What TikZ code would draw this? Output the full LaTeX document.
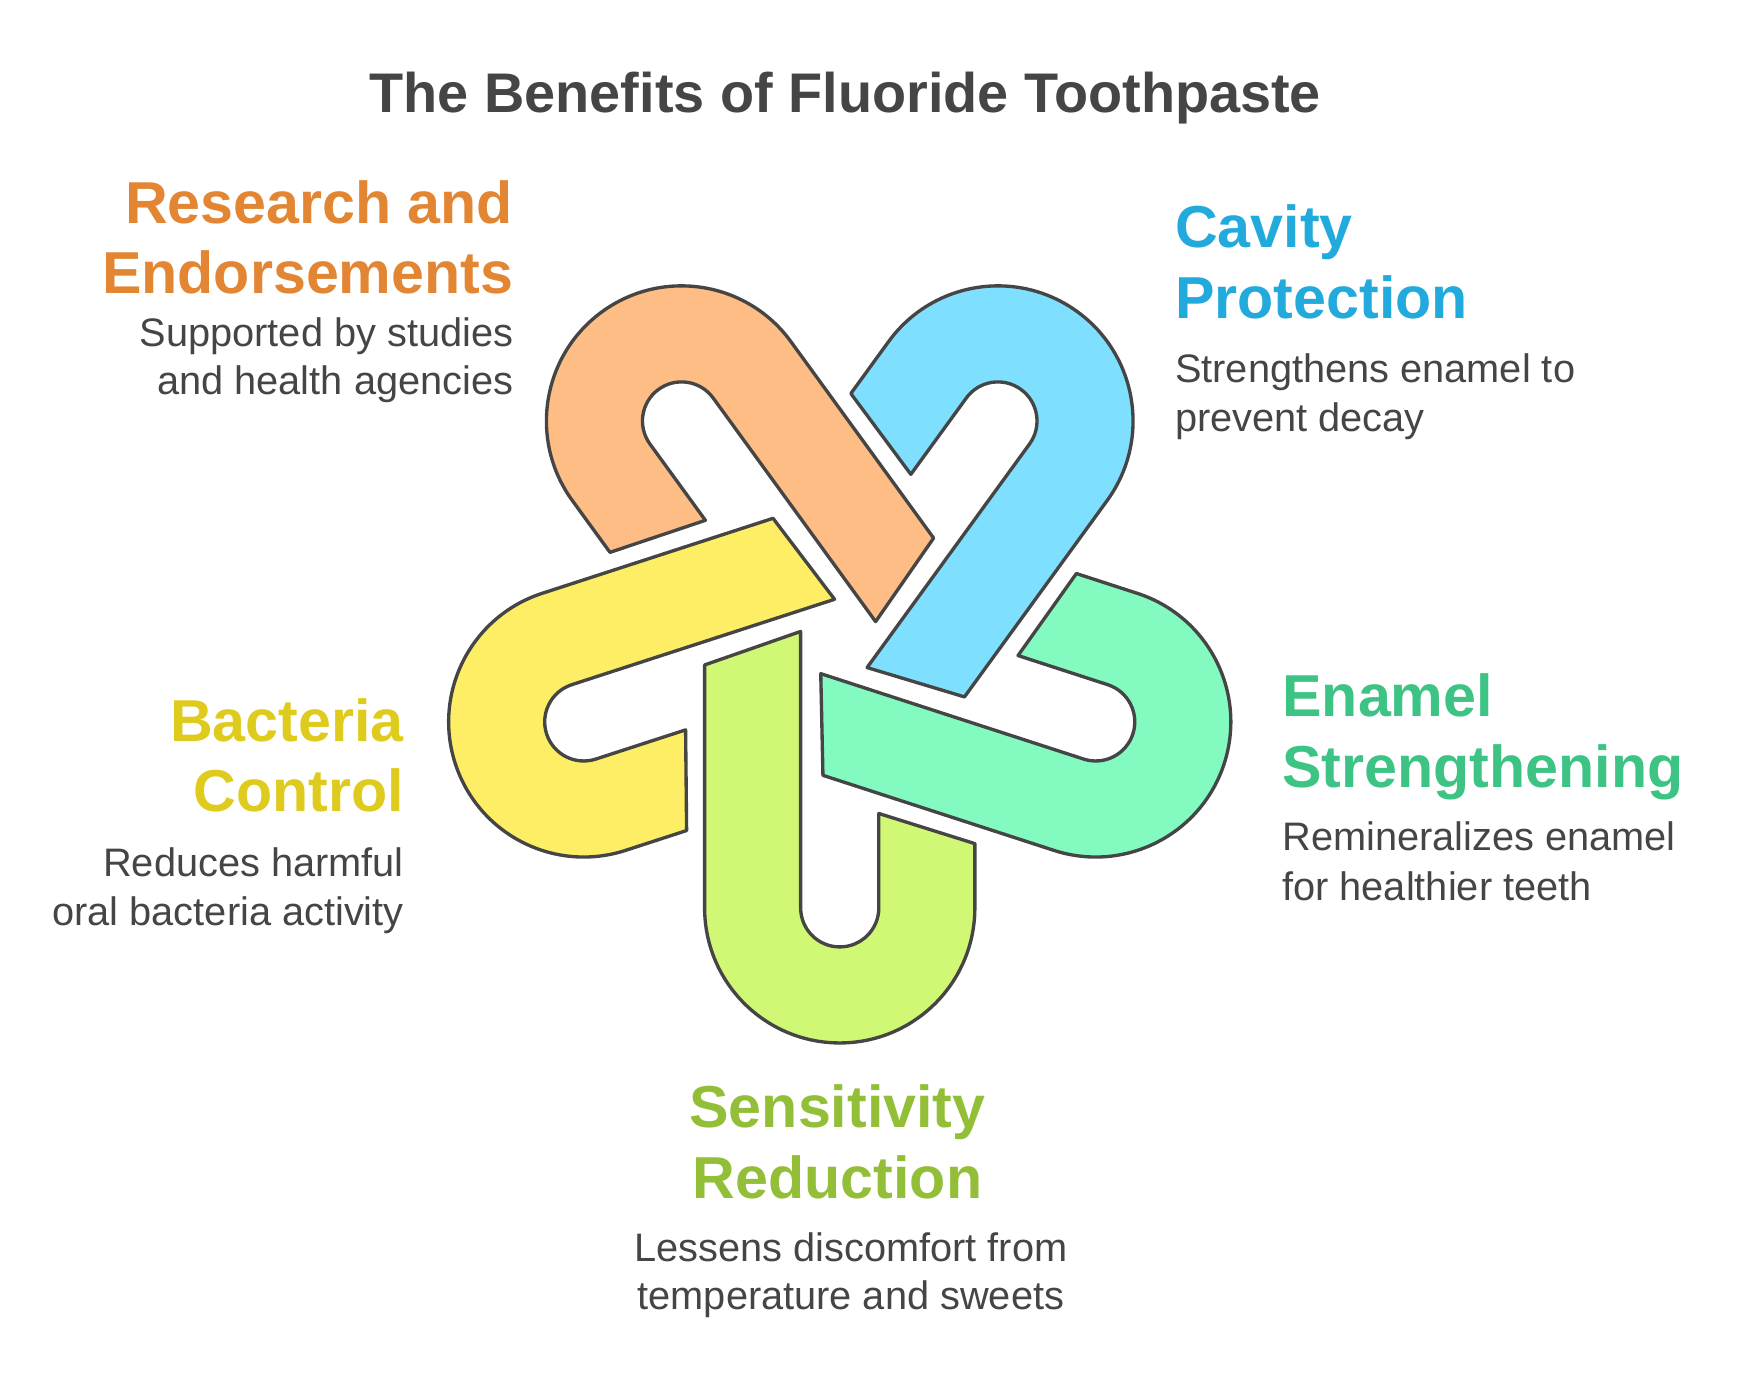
\documentclass[tikz,border=0pt]{standalone}
\usepackage{fontspec}
\setmainfont{Liberation Sans}
\begin{document}
\begin{tikzpicture}[x=0.5pt,y=0.5pt,
  piece/.style={draw=black!73,line width=1.5pt,line join=round},
  head/.style={font=\fontsize{26.5pt}{28pt}\selectfont\bfseries,inner sep=0pt},
  body/.style={font=\fontsize{17.8pt}{19pt}\selectfont,text=black!73,inner sep=0pt}]
\definecolor{cOr}{HTML}{FDBD84}\definecolor{cBl}{HTML}{7FDFFF}
\definecolor{cGr}{HTML}{83FAC0}\definecolor{cYe}{HTML}{FDEE65}
\definecolor{cLi}{HTML}{D1F874}
\definecolor{tOr}{HTML}{E38634}\definecolor{tBl}{HTML}{22AADC}
\definecolor{tGr}{HTML}{3DC485}\definecolor{tYe}{HTML}{DFCB1D}
\definecolor{tLi}{HTML}{93BF38}
\useasboundingbox (0,0) rectangle (1560,1236);
\def\U{(-121,217.5) -- (-121,0) arc(180:360:121) -- (121,57.5) -- (35,84.5) -- (35,0) arc(0:-180:35) -- (-35,247.5) -- cycle}
\foreach \r/\c in {0/cLi,-72/cYe,-144/cOr,144/cBl,72/cGr}{
  \begin{scope}[shift={(752,664)},rotate=\r,shift={(0,-241)}]
    \path[piece,fill=\c] \U;
  \end{scope}}
\node[font=\fontsize{25pt}{26pt}\selectfont\bfseries,text=black!73,inner sep=0pt,anchor=base] (title) at (757,1236-101) {The Benefits of Fluoride Toothpaste};
% Research
\node[head,text=tOr,anchor=base east] (r1) at (460,1236-200) {Research and};
\node[head,text=tOr,anchor=base east] (r2) at (460,1236-263) {Endorsements};
\node[body,anchor=base east] (r3) at (460,1236-310) {Supported by studies};
\node[body,anchor=base east] (r4) at (460,1236-353) {and health agencies};
% Cavity
\node[head,text=tBl,anchor=base west] (c1) at (1052,1236-222) {Cavity};
\node[head,text=tBl,anchor=base west] (c2) at (1052,1236-285) {Protection};
\node[body,anchor=base west] (c3) at (1052,1236-343) {Strengthens enamel to};
\node[body,anchor=base west] (c4) at (1052,1236-386) {prevent decay};
% Enamel
\node[head,text=tGr,anchor=base west] (e1) at (1148,1236-642) {Enamel};
\node[head,text=tGr,anchor=base west] (e2) at (1148,1236-705) {Strengthening};
\node[body,anchor=base west] (e3) at (1148,1236-762) {Remineralizes enamel};
\node[body,anchor=base west] (e4) at (1148,1236-806) {for healthier teeth};
% Bacteria
\node[head,text=tYe,anchor=base east] (b1) at (362,1236-664) {Bacteria};
\node[head,text=tYe,anchor=base east] (b2) at (362,1236-727) {Control};
\node[body,anchor=base east] (b3) at (362,1236-785) {Reduces harmful};
\node[body,anchor=base east] (b4) at (362,1236-829) {oral bacteria activity};
% Sensitivity
\node[head,text=tLi,anchor=base] (s1) at (750,1236-1010) {Sensitivity};
\node[head,text=tLi,anchor=base] (s2) at (750,1236-1073) {Reduction};
\node[body,anchor=base] (s3) at (762,1236-1130) {Lessens discomfort from};
\node[body,anchor=base] (s4) at (762,1236-1173) {temperature and sweets};
\end{tikzpicture}
\end{document}
